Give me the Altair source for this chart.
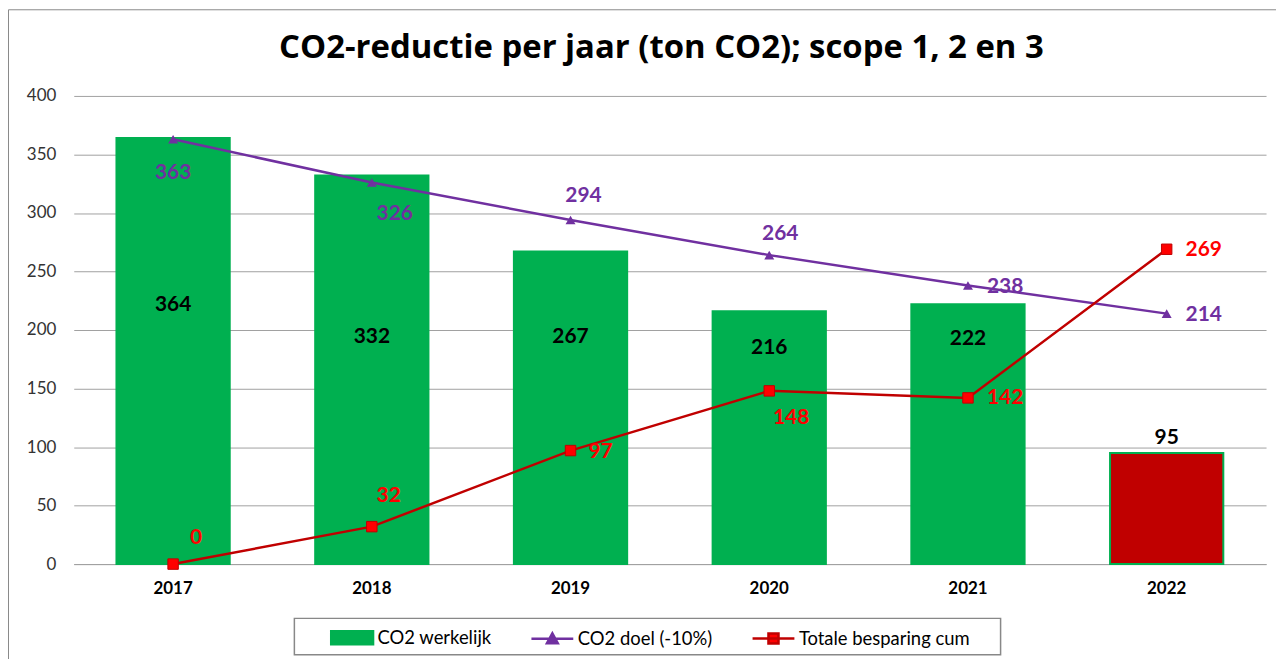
import altair as alt
import pandas as pd

years = ["2017", "2018", "2019", "2020", "2021", "2022"]
werkelijk = [364, 332, 267, 216, 222, 95]
doel = [363, 326, 294, 264, 238, 214]
besparing = [0, 32, 97, 148, 142, 269]

series_names = ["CO2 werkelijk", "CO2 doel (-10%)", "Totale besparing cum"]
title_text = "CO2-reductie per jaar (ton CO2); scope 1, 2 en 3"

FONT = "Lato"
GREEN = "#00B050"
PURPLE = "#7030A0"
DARKRED = "#C00000"
RED = "#FF0000"

df = pd.DataFrame({"year": years, "werkelijk": werkelijk, "doel": doel, "besparing": besparing})

W, H = 1197, 470
x_enc = alt.X("year:N", sort=years, title=None,
              scale=alt.Scale(paddingInner=0.43, paddingOuter=0.215),
              axis=alt.Axis(labelFontWeight="bold", labelFontSize=17, labelColor="#000",
                            labelPadding=17, ticks=False, domainColor="#a0a0a0", labelAngle=0))
y_scale = alt.Scale(domain=[0, 400], nice=False)

base = alt.Chart(df)

bars = base.mark_bar(strokeWidth=2).encode(
    x=x_enc,
    y=alt.Y("werkelijk:Q", scale=y_scale, title=None,
            axis=alt.Axis(values=list(range(0, 401, 50)), grid=True, gridColor="#a0a0a0",
                          domain=False, ticks=False, labelFontSize=17, labelColor="#333",
                          labelPadding=18)),
    color=alt.condition(alt.datum.year == "2022", alt.value(DARKRED), alt.value(GREEN)),
    stroke=alt.value(GREEN),
)

# label offsets (pixels) per year: (dx, dy, align)
bar_off = {"2017": (0, 168, "center"), "2018": (0, 162, "center"), "2019": (0, 86, "center"),
           "2020": (0, 37, "center"), "2021": (0, 35, "center"), "2022": (0, -15, "center")}
doel_off = {"2017": (0, 34, "center"), "2018": (23, 32, "center"), "2019": (13, -24, "center"),
            "2020": (11, -21, "center"), "2021": (19, 1, "left"), "2022": (19, 1, "left")}
bes_off = {"2017": (23, -26, "center"), "2018": (17, -31, "center"), "2019": (18, 1, "left"),
           "2020": (22, 27, "center"), "2021": (19, 0, "left"), "2022": (19, 1, "left")}


def labels(field, color, offs):
    out = []
    for yr, (dx, dy, al) in offs.items():
        out.append(base.transform_filter(alt.datum.year == yr).mark_text(
            font=FONT, fontSize=21, fontWeight="bold", color=color,
            dx=dx, dy=dy, align=al, baseline="middle").encode(
            x=alt.X("year:N", sort=years),
            y=alt.Y(f"{field}:Q", scale=y_scale),
            text=alt.Text(f"{field}:Q")))
    return out


doel_line = base.mark_line(color=PURPLE, strokeWidth=2.5).encode(
    x=alt.X("year:N", sort=years), y=alt.Y("doel:Q", scale=y_scale))
doel_pts = base.mark_point(shape="triangle-up", filled=True, size=100, color=PURPLE, opacity=1).encode(
    x=alt.X("year:N", sort=years), y=alt.Y("doel:Q", scale=y_scale))
bes_line = base.mark_line(color=DARKRED, strokeWidth=2.5).encode(
    x=alt.X("year:N", sort=years), y=alt.Y("besparing:Q", scale=y_scale))
bes_pts = base.mark_point(shape="square", filled=True, size=110, fill=RED, stroke=DARKRED,
                          strokeWidth=1, opacity=1).encode(
    x=alt.X("year:N", sort=years), y=alt.Y("besparing:Q", scale=y_scale))

# legend layer (no visible marks; only drives the legend)
leg_df = pd.DataFrame({"series": series_names})
rect_path = "M-1,-0.31H1V0.31H-1Z"
tri_path = "M-1,0H1M-0.26,0.22L0,-0.26L0.26,0.22Z"
sq_path = "M-1,0H1M-0.24,-0.24H0.24V0.24H-0.24Z"
legend_layer = alt.Chart(leg_df).transform_filter("false").mark_point(opacity=1, filled=True).encode(
    fill=alt.Fill("series:N", scale=alt.Scale(domain=series_names, range=[GREEN, PURPLE, RED]),
                  legend=alt.Legend(title=None)),
    stroke=alt.Stroke("series:N", scale=alt.Scale(domain=series_names, range=[GREEN, PURPLE, DARKRED]),
                      legend=alt.Legend(title=None)),
    shape=alt.Shape("series:N", scale=alt.Scale(domain=series_names, range=[rect_path, tri_path, sq_path]),
                    legend=alt.Legend(title=None)),
)

frame_df = pd.DataFrame({"k": [1]})
legend_box = alt.Chart(frame_df).mark_rect(fill=None, stroke="#888", strokeWidth=1.5).encode(
    x=alt.value(221.5), x2=alt.value(930.5), y=alt.value(524.5), y2=alt.value(561))
outer_box = alt.Chart(frame_df).mark_rect(fill=None, stroke="#888", strokeWidth=1).encode(
    x=alt.value(-65.5), x2=alt.value(1400), y=alt.value(-86.5), y2=alt.value(800))

title_df = pd.DataFrame({"t": [title_text]})
title_mark = alt.Chart(title_df).mark_text(
    font="Open Sans", fontSize=33, fontWeight="bold", color="#000", align="center",
    baseline="alphabetic").encode(x=alt.value(590), y=alt.value(-38), text="t:N")

layers = [outer_box, bars] + labels("werkelijk", "#000", bar_off) + [doel_line, doel_pts] \
    + labels("doel", PURPLE, doel_off) + [bes_line, bes_pts] + labels("besparing", RED, bes_off) \
    + [legend_layer, legend_box, title_mark]

chart = alt.layer(*layers).properties(
    width=W, height=H,
    autosize=alt.AutoSizeParams(type="none"),
    padding={"left": 66, "top": 87, "right": 10, "bottom": 94},
).configure_view(stroke=None).configure_axis(
    labelFont=FONT
).configure_legend(
    orient="none", legendX=257, legendY=521, direction="horizontal",
    symbolSize=1764, symbolStrokeWidth=2.5, labelFont=FONT, labelFontSize=18.5, labelColor="#000",
    labelOffset=3, columnPadding=34, padding=0, labelLimit=500,
)

chart.save("out.html", embed_options={"renderer": "svg", "actions": False})
